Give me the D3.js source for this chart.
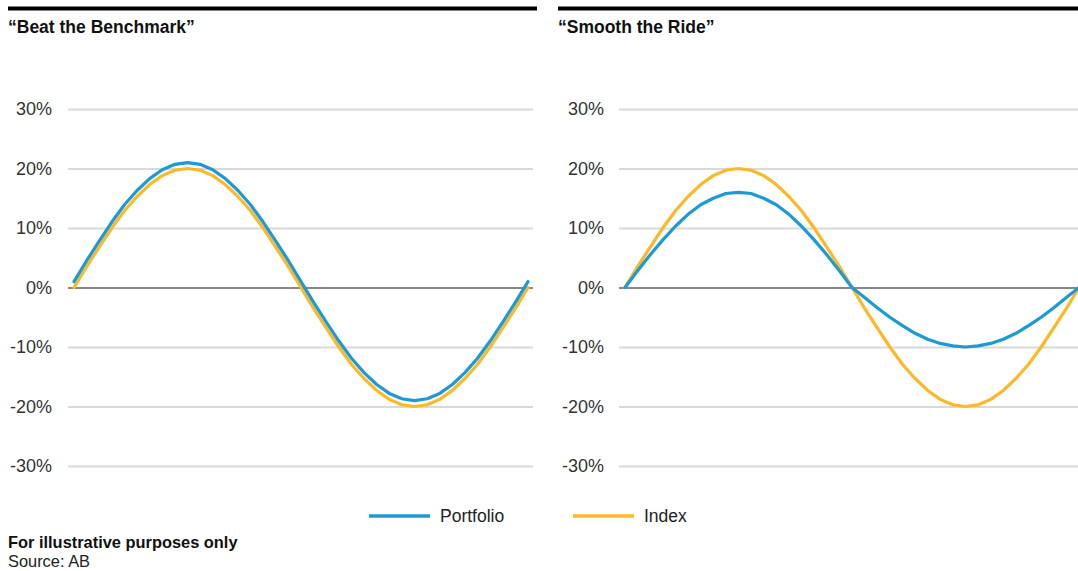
<!DOCTYPE html>
<html>
<head>
<meta charset="utf-8">
<script src="https://cdn.jsdelivr.net/npm/d3@7"></script>
<style>
  html, body { margin: 0; padding: 0; background: #fff; }
  svg { display: block; font-family: "Liberation Sans", Arial, sans-serif; }
</style>
</head>
<body>
<svg id="chart" width="1078" height="571"></svg>
<script>
// Time steps along each curve (one full cycle)
const steps = d3.range(37);

// "Beat the Benchmark" panel (%)
const beatIndex = [0, 3.5, 6.8, 10.0, 12.9, 15.3, 17.3, 18.8, 19.7, 20.0, 19.7, 18.8, 17.3, 15.3, 12.9, 10.0, 6.8, 3.5, 0,
  -3.5, -6.8, -10.0, -12.9, -15.3, -17.3, -18.8, -19.7, -20.0, -19.7, -18.8, -17.3, -15.3, -12.9, -10.0, -6.8, -3.5, 0];
const beatPortfolio = [1.0, 4.5, 7.8, 11.0, 13.9, 16.3, 18.3, 19.8, 20.7, 21.0, 20.7, 19.8, 18.3, 16.3, 13.9, 11.0, 7.8, 4.5, 1.0,
  -2.5, -5.8, -9.0, -11.9, -14.3, -16.3, -17.8, -18.7, -19.0, -18.7, -17.8, -16.3, -14.3, -11.9, -9.0, -5.8, -2.5, 1.0];

// "Smooth the Ride" panel (%)
const rideIndex = [0, 3.5, 6.8, 10.0, 12.9, 15.3, 17.3, 18.8, 19.7, 20.0, 19.7, 18.8, 17.3, 15.3, 12.9, 10.0, 6.8, 3.5, 0,
  -3.5, -6.8, -10.0, -12.9, -15.3, -17.3, -18.8, -19.7, -20.0, -19.7, -18.8, -17.3, -15.3, -12.9, -10.0, -6.8, -3.5, 0];
const ridePortfolio = [0, 2.8, 5.5, 8.0, 10.3, 12.3, 13.9, 15.0, 15.8, 16.0, 15.8, 15.0, 13.9, 12.3, 10.3, 8.0, 5.5, 2.8, 0,
  -1.7, -3.4, -5.0, -6.4, -7.7, -8.7, -9.4, -9.8, -10.0, -9.8, -9.4, -8.7, -7.7, -6.4, -5.0, -3.4, -1.7, 0];

const yTicks = [30, 20, 10, 0, -10, -20, -30];
const seriesNames = ["Portfolio", "Index"];
const seriesColors = ["#1b9ad6", "#fdb827"];

const panels = [
  { title: "\u201CBeat the Benchmark\u201D", portfolio: beatPortfolio, index: beatIndex,
    ruleX0: 8, ruleX1: 537, titleX: 8, labelX: 52, gridX0: 68, gridX1: 533, curveX0: 74, curveX1: 528 },
  { title: "\u201CSmooth the Ride\u201D", portfolio: ridePortfolio, index: rideIndex,
    ruleX0: 558, ruleX1: 1078, titleX: 558, labelX: 604, gridX0: 619, gridX1: 1090, curveX0: 625, curveX1: 1079 }
];

const svg = d3.select("#chart");
const y = d3.scaleLinear().domain([-30, 30]).range([466, 109]);

panels.forEach(p => {
  const g = svg.append("g");
  const x = d3.scaleLinear().domain([0, steps.length - 1]).range([p.curveX0, p.curveX1]);

  // heavy top rule and panel title
  g.append("line").attr("x1", p.ruleX0).attr("x2", p.ruleX1).attr("y1", 8.5).attr("y2", 8.5)
    .attr("stroke", "#000").attr("stroke-width", 4);
  g.append("text").attr("x", p.titleX).attr("y", 33).attr("font-size", 17.5).attr("font-weight", "bold")
    .attr("fill", "#111").text(p.title);

  // y axis: gridlines and labels
  const axis = d3.axisLeft(y).tickValues(yTicks).tickSize(-(p.gridX1 - p.gridX0))
    .tickPadding(p.gridX0 - p.labelX).tickFormat(d => d + "%");
  const ax = g.append("g").attr("transform", `translate(${p.gridX0},0)`).call(axis);
  ax.select(".domain").remove();
  ax.selectAll(".tick line")
    .attr("stroke", d => d === 0 ? "#111" : "#d9d9d9")
    .attr("stroke-width", d => d === 0 ? 1.2 : 2);
  ax.selectAll(".tick text").attr("font-size", 18).attr("fill", "#333")
    .attr("font-family", "\"Liberation Sans\", Arial, sans-serif");
  ax.selectAll(".tick").filter(d => d === 0).raise();

  const line = d3.line().x((d, i) => x(steps[i])).y(d => y(d));
  [p.index, p.portfolio].forEach((vals, k) => {
    g.append("path").datum(vals).attr("d", line).attr("fill", "none")
      .attr("stroke", k === 0 ? seriesColors[1] : seriesColors[0])
      .attr("stroke-width", 3.2).attr("stroke-linejoin", "round").attr("stroke-linecap", "round");
  });
});

// legend
const legendX = [369, 573];
seriesNames.forEach((name, i) => {
  const lg = svg.append("g").attr("transform", `translate(${legendX[i]},516)`);
  lg.append("line").attr("x1", 0).attr("x2", 61).attr("stroke", seriesColors[i]).attr("stroke-width", 3.5);
  lg.append("text").attr("x", 71).attr("y", 6).attr("font-size", 17.5).attr("fill", "#222").text(name);
});

// footnotes
svg.append("text").attr("x", 8).attr("y", 548).attr("font-size", 16.4).attr("font-weight", "bold")
  .attr("fill", "#111").text("For illustrative purposes only");
svg.append("text").attr("x", 8).attr("y", 567).attr("font-size", 16.4).attr("fill", "#222").text("Source: AB");
</script>
</body>
</html>
